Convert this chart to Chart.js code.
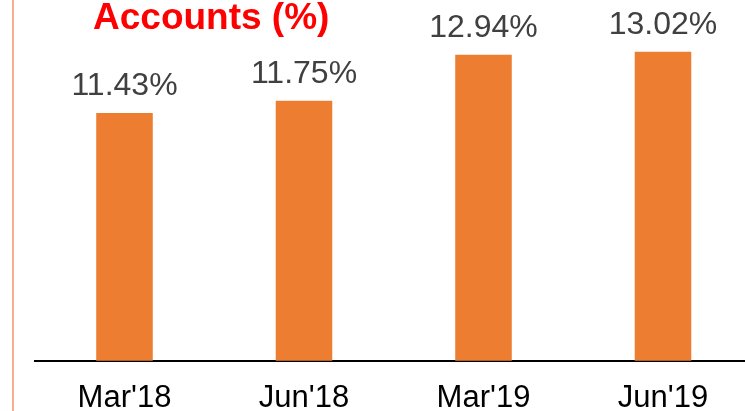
<!DOCTYPE html>
<html>
<head>
<meta charset="utf-8">
<script src="https://cdn.jsdelivr.net/npm/chart.js@4/dist/chart.umd.min.js"></script>
<style>
    html, body { margin: 0; padding: 0; background: #fff; overflow: hidden; }
    #wrap { position: relative; width: 745px; height: 411px; overflow: hidden; }
    #edge { position: absolute; left: 12px; top: 0; width: 2px; height: 411px; background: #F8AE93; }
    #title { position: absolute; left: 93px; top: -1px; font: bold 37px "Liberation Sans", Arial, sans-serif; line-height: 36px; color: #FF0000; white-space: nowrap; }
    #canvas { position: absolute; left: 0; top: 0; }
</style>
</head>
<body>
<div id="wrap">
    <canvas id="canvas" width="760" height="436"></canvas>
    <div id="edge"></div>
    <div id="title">Accounts (%)</div>
</div>
<script>
const categories = ["Mar'18", "Jun'18", "Mar'19", "Jun'19"];
const values = [11.43, 11.75, 12.94, 13.02];

// value labels above bars
const valueLabels = {
    id: 'valueLabels',
    afterDatasetsDraw(chart) {
        const ctx = chart.ctx;
        const meta = chart.getDatasetMeta(0);
        ctx.save();
        ctx.font = '32px "Liberation Sans", Arial, sans-serif';
        ctx.fillStyle = '#404040';
        ctx.textAlign = 'center';
        ctx.textBaseline = 'alphabetic';
        meta.data.forEach((bar, i) => {
            ctx.fillText(values[i].toFixed(2) + '%', bar.x, bar.y - 18);
        });
        ctx.restore();
    }
};

new Chart(document.getElementById('canvas').getContext('2d'), {
    type: 'bar',
    data: {
        labels: categories,
        datasets: [{
            data: values,
            backgroundColor: '#ED7D31',
            barPercentage: 0.315,
            categoryPercentage: 1
        }]
    },
    options: {
        responsive: false,
        animation: false,
        devicePixelRatio: 1,
        layout: {
            padding: { left: 34.75, top: 14, right: 7.25, bottom: 0 }
        },
        plugins: {
            legend: { display: false },
            tooltip: { enabled: false }
        },
        scales: {
            x: {
                grid: { display: false, drawTicks: false },
                border: { display: true, color: '#000000', width: 2 },
                ticks: {
                    color: '#000000',
                    padding: 19,
                    font: { family: '"Liberation Sans", Arial, sans-serif', size: 31 }
                }
            },
            y: {
                display: false,
                min: 5,
                max: 14
            }
        }
    },
    plugins: [valueLabels]
});
</script>
</body>
</html>
